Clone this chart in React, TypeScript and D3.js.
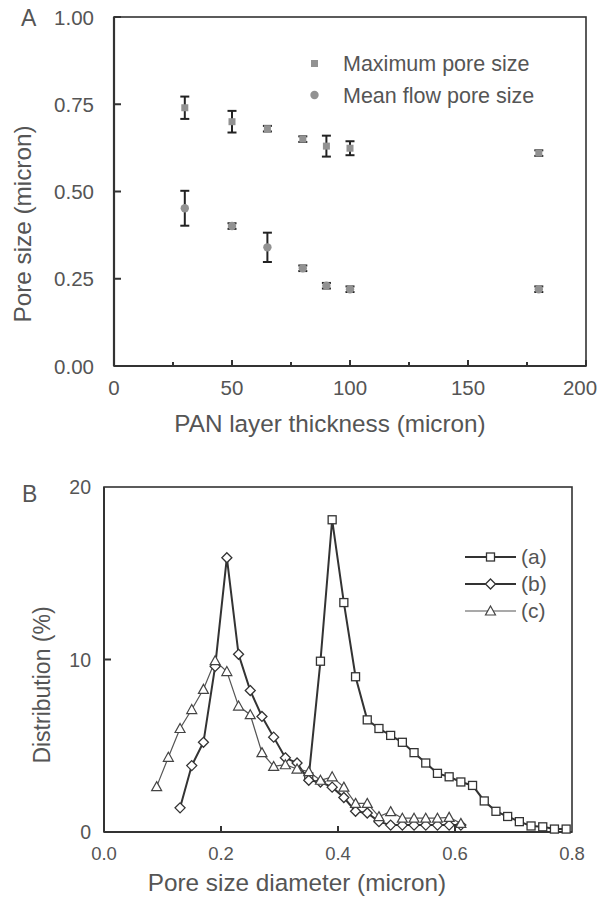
import React from "react";
import * as d3 from "d3";

// ---------- Panel A data ----------
const thickness = [30, 50, 65, 80, 90, 100, 180];
const maxPore = [0.74, 0.70, 0.68, 0.65, 0.63, 0.624, 0.61];
const maxPoreErr = [0.032, 0.031, 0.008, 0.008, 0.03, 0.02, 0.008];
const meanPore = [0.452, 0.401, 0.34, 0.28, 0.23, 0.22, 0.22];
const meanPoreErr = [0.05, 0.008, 0.042, 0.008, 0.008, 0.008, 0.008];
const aXTicks = [0, 50, 100, 150, 200];
const aXMinor = [25, 75, 125, 175];
const aYTicks = [0, 0.25, 0.5, 0.75, 1.0];

// ---------- Panel B data ----------
const aX = [0.35, 0.37, 0.39, 0.41, 0.43, 0.45, 0.47, 0.49, 0.51, 0.53, 0.55, 0.57, 0.59, 0.61, 0.63, 0.65, 0.67, 0.69, 0.71, 0.73, 0.75, 0.77, 0.79];
const aY = [3.2, 9.9, 18.1, 13.3, 9.0, 6.5, 6.0, 5.6, 5.2, 4.6, 4.0, 3.4, 3.2, 2.9, 2.7, 1.8, 1.2, 0.9, 0.6, 0.35, 0.3, 0.17, 0.17];
const bX = [0.13, 0.15, 0.17, 0.19, 0.21, 0.23, 0.25, 0.27, 0.29, 0.31, 0.33, 0.35, 0.37, 0.39, 0.41, 0.43, 0.45, 0.47, 0.49, 0.51, 0.53, 0.55, 0.57, 0.59, 0.61];
const bY = [1.4, 3.85, 5.2, 9.6, 15.9, 10.3, 8.2, 6.7, 5.5, 4.3, 4.0, 3.0, 2.9, 2.6, 2.0, 1.2, 1.1, 0.6, 0.4, 0.4, 0.4, 0.4, 0.4, 0.4, 0.4];
const cX = [0.09, 0.11, 0.13, 0.15, 0.17, 0.19, 0.21, 0.23, 0.25, 0.27, 0.29, 0.31, 0.33, 0.35, 0.37, 0.39, 0.41, 0.43, 0.45, 0.47, 0.49, 0.51, 0.53, 0.55, 0.57, 0.59, 0.61];
const cY = [2.63, 4.33, 6.0, 7.1, 8.27, 9.93, 9.3, 7.3, 6.8, 4.6, 3.8, 3.9, 3.65, 3.5, 3.0, 3.2, 2.6, 1.66, 1.66, 0.89, 1.18, 0.8, 0.8, 0.8, 0.8, 0.85, 0.5];
const bXTicks = [0, 0.2, 0.4, 0.6, 0.8];
const bYTicks = [0, 10, 20];
const seriesNames = ["(a)", "(b)", "(c)"];
const legendA = ["Maximum pore size", "Mean flow pore size"];

const FONT = "'Liberation Sans', Arial, Helvetica, sans-serif";
const TXT = "#555";
const AX = "#333";

function marker(kind: string, x: number, y: number, key: string) {
  const s = 4;
  if (kind === "square")
    return <rect key={key} x={x - s} y={y - s} width={2 * s} height={2 * s} fill="#fff" stroke={AX} strokeWidth={1.3} />;
  if (kind === "diamond")
    return <path key={key} d={`M${x},${y - 5}L${x + 5},${y}L${x},${y + 5}L${x - 5},${y}Z`} fill="#fff" stroke={AX} strokeWidth={1.3} />;
  return <path key={key} d={`M${x},${y - 5}L${x + 5},${y + 4}L${x - 5},${y + 4}Z`} fill="#fff" stroke="#444" strokeWidth={1.2} />;
}

export default function App() {
  // Panel A scales
  const ax = d3.scaleLinear().domain([0, 200]).range([114, 586]);
  const ay = d3.scaleLinear().domain([0, 1]).range([366, 17]);
  // Panel B scales
  const bx = d3.scaleLinear().domain([0, 0.8]).range([104, 572]);
  const by = d3.scaleLinear().domain([0, 20]).range([832, 487]);

  const line = (xs: number[], ys: number[]) =>
    d3.line<number>().x((_, i) => bx(xs[i])).y((_, i) => by(ys[i]))(ys) || "";

  const errBar = (x: number, v: number, e: number, key: string) => {
    const px = ax(x);
    const t = ay(v + e), b = ay(v - e);
    return (
      <g key={key} stroke="#222" strokeWidth={2}>
        <line x1={px} x2={px} y1={t} y2={b} />
        <line x1={px - 4.5} x2={px + 4.5} y1={t} y2={t} />
        <line x1={px - 4.5} x2={px + 4.5} y1={b} y2={b} />
      </g>
    );
  };

  const series = [
    { xs: aX, ys: aY, kind: "square", w: 2, c: AX },
    { xs: bX, ys: bY, kind: "diamond", w: 2, c: AX },
    { xs: cX, ys: cY, kind: "triangle", w: 1.2, c: "#555" },
  ];

  return (
    <svg width={599} height={897} style={{ position: "absolute", left: 0, top: 0 }} fontFamily={FONT}>
      <rect width={599} height={897} fill="#fff" />
      {/* ---------- Panel A ---------- */}
      <text x={21} y={26} fontSize={23} fill={TXT}>A</text>
      <rect x={114} y={17} width={472} height={349} fill="none" stroke={AX} strokeWidth={1.6} />
      <line x1={114} x2={114} y1={17} y2={366} stroke={AX} strokeWidth={2.2} />
      <line x1={114} x2={586} y1={366} y2={366} stroke={AX} strokeWidth={2.2} />
      {aXTicks.map((t) => (
        <g key={"axt" + t}>
          <line x1={ax(t)} x2={ax(t)} y1={366} y2={360} stroke={AX} strokeWidth={2} />
          <text x={Math.min(ax(t), 580)} y={395} fontSize={20.5} fill={TXT} textAnchor="middle">{t}</text>
        </g>
      ))}
      {aXMinor.map((t) => (
        <line key={"axm" + t} x1={ax(t)} x2={ax(t)} y1={366} y2={362} stroke={AX} strokeWidth={2} />
      ))}
      {aYTicks.map((t) => (
        <g key={"ayt" + t}>
          <line x1={114} x2={121} y1={ay(t)} y2={ay(t)} stroke={AX} strokeWidth={2} />
          <text x={94} y={ay(t) + 7.5} fontSize={20.5} fill={TXT} textAnchor="end">{t.toFixed(2)}</text>
        </g>
      ))}
      <text x={330} y={432} fontSize={24.3} fill={TXT} textAnchor="middle">PAN layer thickness (micron)</text>
      <text transform="translate(31,224) rotate(-90)" fontSize={24.3} fill={TXT} textAnchor="middle">Pore size (micron)</text>
      {thickness.map((t, i) => errBar(t, maxPore[i], maxPoreErr[i], "em" + i))}
      {thickness.map((t, i) => errBar(t, meanPore[i], meanPoreErr[i], "en" + i))}
      {thickness.map((t, i) => (
        <rect key={"sq" + i} x={ax(t) - 3.5} y={ay(maxPore[i]) - 3.5} width={7} height={7} fill="#929292" />
      ))}
      {thickness.map((t, i) => (
        <circle key={"ci" + i} cx={ax(t)} cy={ay(meanPore[i])} r={4.2} fill="#929292" />
      ))}
      {/* Legend A */}
      <rect x={311} y={60} width={7} height={7} fill="#929292" />
      <circle cx={314.5} cy={95} r={4.2} fill="#929292" />
      <text x={343} y={71} fontSize={21.5} fill={TXT}>{legendA[0]}</text>
      <text x={343} y={103} fontSize={21.5} fill={TXT}>{legendA[1]}</text>

      {/* ---------- Panel B ---------- */}
      <text x={22} y={502} fontSize={23} fill={TXT}>B</text>
      <rect x={104} y={487} width={468} height={345} fill="none" stroke={AX} strokeWidth={1.6} />
      <line x1={104} x2={104} y1={487} y2={832} stroke={AX} strokeWidth={2} />
      <line x1={104} x2={572} y1={832} y2={832} stroke={AX} strokeWidth={2.2} />
      {bXTicks.map((t) => (
        <g key={"bxt" + t}>
          {t > 0 && t < 0.8 && <line x1={bx(t)} x2={bx(t)} y1={832} y2={826} stroke={AX} strokeWidth={2} />}
          <text x={bx(t)} y={860} fontSize={18.5} fill={TXT} textAnchor="middle">{t.toFixed(1)}</text>
        </g>
      ))}
      {bYTicks.map((t) => (
        <g key={"byt" + t}>
          {t > 0 && t < 20 && <line x1={104} x2={111} y1={by(t)} y2={by(t)} stroke={AX} strokeWidth={2} />}
          <text x={91} y={by(t) + 7} fontSize={19.5} fill={TXT} textAnchor="end">{t}</text>
        </g>
      ))}
      <text x={297} y={891} fontSize={24.3} fill={TXT} textAnchor="middle">Pore size diameter (micron)</text>
      <text transform="translate(50,685) rotate(-90)" fontSize={23} fill={TXT} textAnchor="middle">Distribution (%)</text>
      {series.map((s, k) => (
        <path key={"ln" + k} d={line(s.xs, s.ys)} fill="none" stroke={s.c} strokeWidth={s.w} />
      ))}
      {series.map((s, k) => (
        <g key={"mk" + k}>{s.xs.map((x, i) => marker(s.kind, bx(x), by(s.ys[i]), `m${k}-${i}`))}</g>
      ))}
      {/* Legend B */}
      {series.map((s, k) => {
        const y = 557 + k * 27;
        return (
          <g key={"lg" + k}>
            <line x1={465} x2={516} y1={y} y2={y} stroke={s.c} strokeWidth={s.w} />
            {marker(s.kind, 490.5, y, "lm" + k)}
            <text x={521} y={y + 7} fontSize={21} fill={TXT}>{seriesNames[k]}</text>
          </g>
        );
      })}
    </svg>
  );
}
